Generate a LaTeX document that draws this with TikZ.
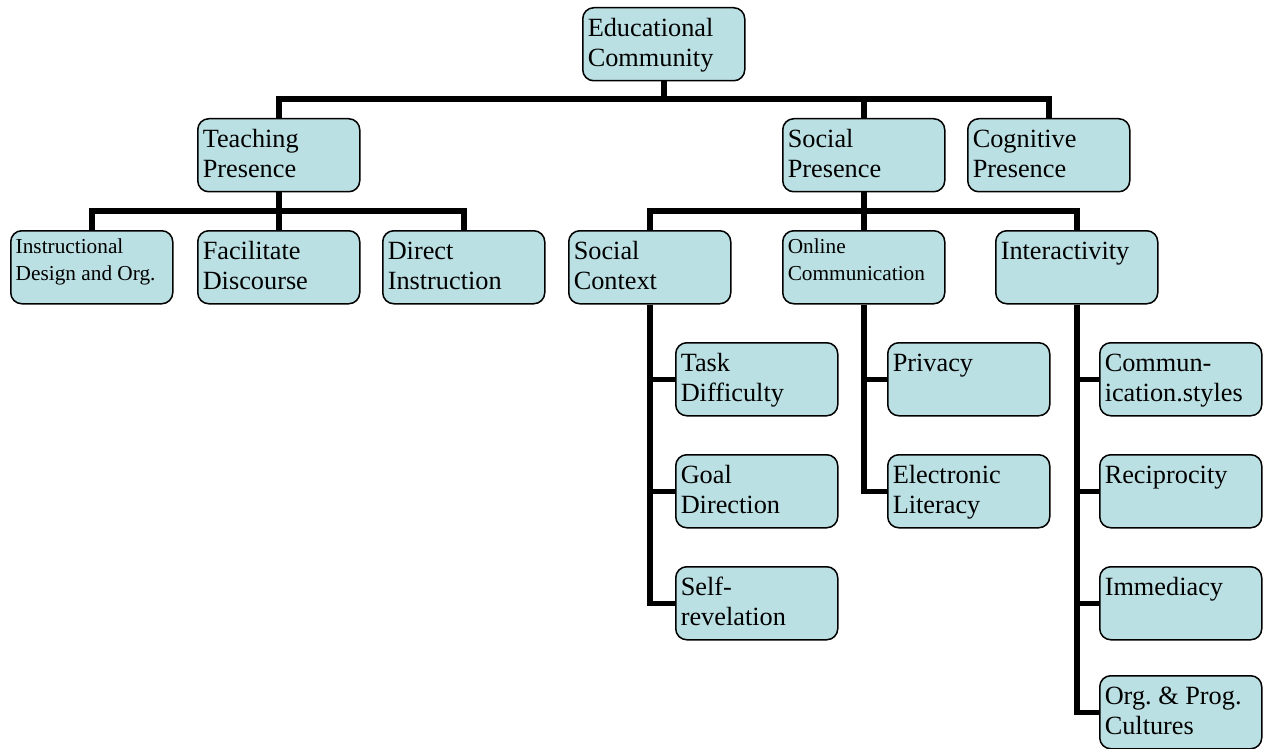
\documentclass[tikz,border=0pt]{standalone}
\usepackage{fontspec}
\setmainfont{Liberation Serif}
\frenchspacing
\definecolor{boxblue}{RGB}{187,224,227}
\newcommand{\bigtxt}[1]{\parbox[c][73pt][t]{152pt}{\fontsize{26.3}{30}\selectfont\frenchspacing\raggedright\rule{0pt}{29pt}#1}}
\newcommand{\smalltxt}[1]{\parbox[c][73pt][t]{152pt}{\fontsize{21.3}{27}\selectfont\frenchspacing\raggedright\rule{0pt}{23pt}#1}}
\tikzset{
  box/.style={draw=black, line width=1.5pt, fill=boxblue, rounded corners=11pt,
    anchor=north west, inner xsep=5pt, inner ysep=0pt, minimum width=160pt, minimum height=73pt},
  conn/.style={draw=black, line width=5.5pt, line join=miter, line cap=butt}
}
\begin{document}
\begin{tikzpicture}[x=1pt,y=-1pt]
\useasboundingbox (0,0) rectangle (1267,749);
\coordinate (bus1) at (0,99);
\coordinate (bus2) at (0,211);
% nodes
\node[box] (edu) at (582,7) {\bigtxt{Educational\\Community}};
\node[box] (teach) at (197,118) {\bigtxt{Teaching\\Presence}};
\node[box] (soc) at (782,118) {\bigtxt{Social\\Presence}};
\node[box] (cog) at (967,118) {\bigtxt{Cognitive\\Presence}};
\node[box] (inst) at (10,230) {\smalltxt{Instructional\\Design and Org.}};
\node[box] (fac) at (197,230) {\bigtxt{Facilitate\\Discourse}};
\node[box] (dir) at (382,230) {\bigtxt{Direct\\Instruction}};
\node[box] (sc) at (568,230) {\bigtxt{Social\\Context}};
\node[box] (oc) at (782,230) {\smalltxt{Online\\Communication}};
\node[box] (int) at (995,230) {\bigtxt{Interactivity}};
\node[box] (td) at (675,342) {\bigtxt{Task\\Difficulty}};
\node[box] (gd) at (675,454) {\bigtxt{Goal\\Direction}};
\node[box] (sr) at (675,566) {\bigtxt{Self-\\revelation}};
\node[box] (pr) at (887,342) {\bigtxt{Privacy}};
\node[box] (el) at (887,454) {\bigtxt{Electronic\\Literacy}};
\node[box] (cs) at (1099,342) {\bigtxt{Commun-\\ication.styles}};
\node[box] (re) at (1099,454) {\bigtxt{Reciprocity}};
\node[box] (im) at (1099,566) {\bigtxt{Immediacy}};
\node[box] (op) at (1099,675) {\bigtxt{Org. \& Prog.\\Cultures}};
% level 1
\draw[conn] (edu.south) -- (edu.south |- bus1) -| (teach.north);
\draw[conn] (edu.south) -- (edu.south |- bus1) -| (soc.north);
\draw[conn] (edu.south) -- (edu.south |- bus1) -| (cog.north);
% teaching
\draw[conn] (teach.south) -- (teach.south |- bus2) -| (inst.north);
\draw[conn] (teach.south) -- (fac.north);
\draw[conn] (teach.south) -- (teach.south |- bus2) -| (dir.north);
% social
\draw[conn] (soc.south) -- (soc.south |- bus2) -| (sc.north);
\draw[conn] (soc.south) -- (oc.north);
\draw[conn] (soc.south) -- (soc.south |- bus2) -| (int.north);
% social context
\draw[conn] (sc.south) |- (td.west);
\draw[conn] (sc.south) |- (gd.west);
\draw[conn] (sc.south) |- (sr.west);
% online communication
\draw[conn] (oc.south) |- (pr.west);
\draw[conn] (oc.south) |- (el.west);
% interactivity
\draw[conn] (int.south) |- (cs.west);
\draw[conn] (int.south) |- (re.west);
\draw[conn] (int.south) |- (im.west);
\draw[conn] (int.south) |- (op.west);
\end{tikzpicture}
\end{document}
